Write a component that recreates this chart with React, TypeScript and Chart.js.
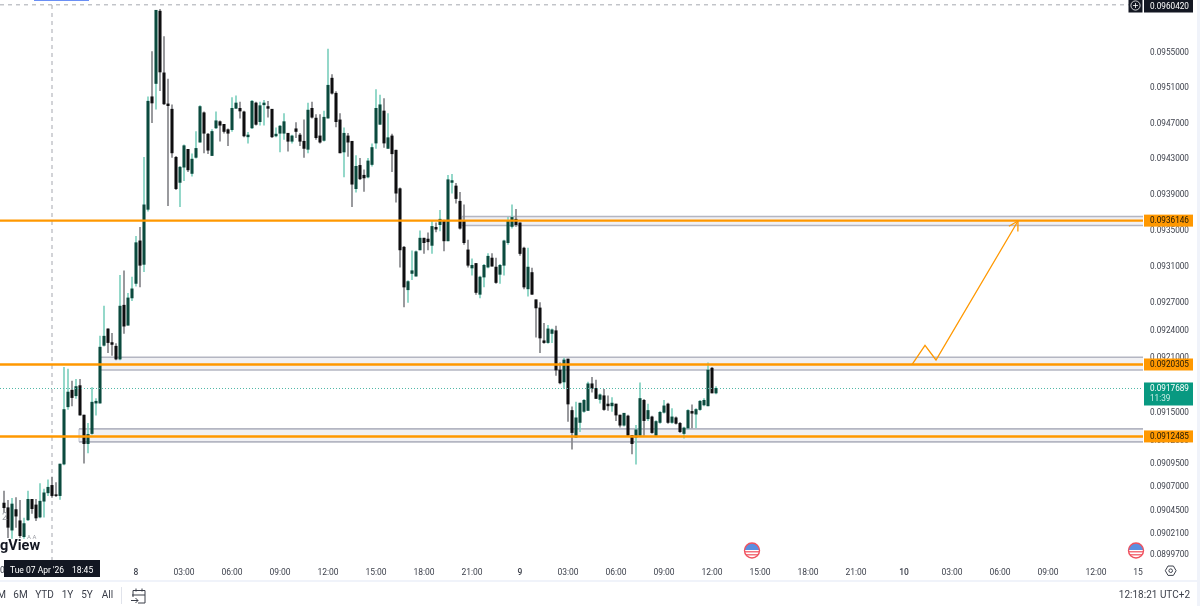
// App.tsx
import { useEffect, useRef } from 'react';
import { Chart, registerables } from 'chart.js';

Chart.register(...registerables);

// 15 minute candles, prices in units of 0.00001
const opens = [
  9053, 9048, 9024, 9046, 9034, 9017, 9035, 9057, 9051, 9038,
  9055, 9064, 9072, 9062, 9061, 9095, 9157, 9175, 9169, 9180,
  9148, 9117, 9128, 9161, 9161, 9224, 9242, 9227, 9223, 9209,
  9268, 9246, 9276, 9292, 9339, 9313, 9374, 9500, 9515, 9597,
  9527, 9492, 9486, 9432, 9404, 9421, 9441, 9414, 9432, 9449,
  9482, 9458, 9434, 9465, 9472, 9469, 9463, 9463, 9487, 9487,
  9483, 9455, 9465, 9493, 9472, 9491, 9489, 9486, 9456, 9459,
  9459, 9459, 9450, 9464, 9457, 9450, 9441, 9487, 9476, 9456,
  9451, 9476, 9521, 9504, 9474, 9438, 9456, 9450, 9397, 9423,
  9412, 9410, 9424, 9448, 9469, 9484, 9442, 9456, 9440, 9397,
  9332, 9285, 9303, 9300, 9329, 9342, 9341, 9334, 9354, 9357,
  9361, 9339, 9404, 9400, 9383, 9361, 9329, 9309, 9314, 9280,
  9299, 9310, 9320, 9310, 9302, 9312, 9337, 9355, 9363, 9359,
  9331, 9286, 9304, 9274, 9265, 9229, 9227, 9237, 9240, 9197,
  9184, 9209, 9153, 9124, 9140, 9152, 9153, 9182, 9177, 9165,
  9169, 9160, 9158, 9160, 9148, 9137, 9147, 9126, 9124, 9126,
  9164, 9144, 9146, 9126, 9140, 9151, 9160, 9140, 9145, 9139,
  9128, 9134, 9152, 9149, 9154, 9159, 9158, 9199, 9172,
];
const closes = [
  9048, 9027, 9052, 9039, 9018, 9031, 9057, 9047, 9037, 9055,
  9064, 9070, 9061, 9061, 9095, 9154, 9173, 9167, 9179, 9148,
  9117, 9127, 9162, 9163, 9222, 9234, 9227, 9225, 9209, 9267,
  9245, 9276, 9286, 9337, 9312, 9379, 9495, 9493, 9598, 9528,
  9492, 9490, 9437, 9397, 9421, 9445, 9418, 9430, 9442, 9489,
  9459, 9440, 9461, 9473, 9468, 9461, 9459, 9487, 9493, 9484,
  9456, 9457, 9495, 9469, 9490, 9493, 9487, 9455, 9458, 9467,
  9472, 9450, 9456, 9461, 9450, 9442, 9485, 9477, 9454, 9449,
  9477, 9513, 9504, 9472, 9437, 9459, 9449, 9402, 9422, 9408,
  9409, 9428, 9443, 9487, 9491, 9448, 9454, 9436, 9392, 9329,
  9288, 9294, 9306, 9327, 9342, 9337, 9338, 9355, 9352, 9363,
  9339, 9407, 9406, 9386, 9353, 9337, 9312, 9312, 9282, 9299,
  9312, 9322, 9311, 9293, 9312, 9339, 9361, 9365, 9357, 9325,
  9288, 9310, 9280, 9265, 9232, 9227, 9242, 9241, 9197, 9183,
  9208, 9160, 9129, 9145, 9161, 9164, 9182, 9177, 9166, 9170,
  9154, 9158, 9161, 9148, 9137, 9150, 9126, 9117, 9132, 9166,
  9142, 9153, 9129, 9141, 9151, 9158, 9140, 9146, 9139, 9130,
  9134, 9153, 9150, 9154, 9163, 9164, 9197, 9172, 9177,
];
const highs = [
  9066, 9056, 9058, 9059, 9056, 9037, 9066, 9057, 9057, 9074,
  9068, 9078, 9081, 9075, 9095, 9200, 9198, 9185, 9187, 9187,
  9148, 9139, 9178, 9166, 9234, 9267, 9242, 9237, 9226, 9301,
  9306, 9281, 9299, 9344, 9354, 9432, 9500, 9551, 9598, 9599,
  9568, 9520, 9491, 9433, 9422, 9446, 9441, 9436, 9461, 9490,
  9483, 9459, 9463, 9483, 9473, 9469, 9464, 9499, 9501, 9494,
  9484, 9460, 9496, 9494, 9494, 9496, 9495, 9486, 9465, 9468,
  9481, 9459, 9457, 9471, 9459, 9474, 9493, 9494, 9480, 9480,
  9484, 9554, 9525, 9506, 9481, 9465, 9459, 9450, 9434, 9431,
  9418, 9431, 9447, 9508, 9502, 9498, 9481, 9458, 9440, 9398,
  9333, 9295, 9328, 9328, 9350, 9342, 9348, 9361, 9359, 9373,
  9362, 9412, 9413, 9403, 9393, 9379, 9340, 9319, 9314, 9300,
  9313, 9325, 9325, 9320, 9313, 9340, 9365, 9379, 9374, 9359,
  9332, 9331, 9309, 9274, 9271, 9248, 9246, 9242, 9245, 9205,
  9210, 9209, 9157, 9162, 9161, 9165, 9184, 9189, 9186, 9171,
  9176, 9169, 9167, 9160, 9148, 9150, 9148, 9126, 9137, 9183,
  9165, 9160, 9147, 9142, 9152, 9164, 9161, 9155, 9146, 9140,
  9135, 9154, 9159, 9155, 9164, 9166, 9205, 9200, 9179,
];
const lows = [
  9043, 9016, 9015, 9027, 9016, 9015, 9034, 9042, 9034, 9037,
  9038, 9061, 9059, 9060, 9057, 9094, 9154, 9158, 9166, 9148,
  9096, 9107, 9127, 9148, 9161, 9223, 9216, 9213, 9208, 9208,
  9237, 9246, 9273, 9289, 9288, 9305, 9372, 9471, 9486, 9507,
  9491, 9378, 9432, 9396, 9377, 9406, 9416, 9411, 9431, 9449,
  9437, 9436, 9434, 9464, 9450, 9459, 9445, 9461, 9487, 9476,
  9455, 9448, 9464, 9468, 9468, 9468, 9477, 9454, 9455, 9438,
  9452, 9439, 9448, 9454, 9445, 9432, 9437, 9476, 9452, 9448,
  9450, 9476, 9503, 9466, 9437, 9410, 9433, 9377, 9393, 9407,
  9394, 9409, 9422, 9442, 9469, 9443, 9442, 9416, 9382, 9310,
  9266, 9271, 9296, 9300, 9329, 9325, 9329, 9325, 9349, 9350,
  9328, 9339, 9392, 9381, 9352, 9335, 9310, 9301, 9280, 9276,
  9288, 9309, 9311, 9292, 9292, 9301, 9335, 9353, 9355, 9323,
  9286, 9278, 9280, 9233, 9216, 9226, 9226, 9227, 9191, 9182,
  9177, 9141, 9111, 9124, 9130, 9151, 9153, 9173, 9166, 9161,
  9153, 9153, 9152, 9142, 9135, 9136, 9125, 9106, 9095, 9125,
  9126, 9142, 9128, 9125, 9139, 9150, 9139, 9139, 9138, 9129,
  9123, 9133, 9134, 9134, 9153, 9158, 9158, 9172, 9171,
];

const priceTicks = [
  0.0955, 0.0951, 0.0947, 0.0943, 0.0939, 0.0935, 0.0931, 0.0927, 0.0924, 0.0921,
  0.0915, 0.0912, 0.09095, 0.0907, 0.09045, 0.0902, 0.08997,
];
const priceTickLabels = [
  '0.0955000', '0.0951000', '0.0947000', '0.0943000', '0.0939000', '0.0935000', '0.0931000',
  '0.0927000', '0.0924000', '0.0921000', '0.0915000', '0.0912000', '0.0909500', '0.0907000',
  '0.0904500', '0.0902100', '0.0899700',
];
const timeTickBars = [34, 46, 58, 70, 82, 94, 106, 118, 130, 142, 154, 166, 178, 190, 202, 214, 226, 238, 250, 262, 274, 284.5];
const timeTickLabels = [
  '8', '03:00', '06:00', '09:00', '12:00', '15:00', '18:00', '21:00',
  '9', '03:00', '06:00', '09:00', '12:00', '15:00', '18:00', '21:00',
  '10', '03:00', '06:00', '09:00', '12:00', '15',
];
const dayLabels = ['8', '9', '10'];

const levels = [0.0936146, 0.0920305, 0.0912485];
const zoneTops = [0.09366, 0.09211, 0.09133];
const zoneBottoms = [0.09356, 0.09197, 0.09119];
const zoneStartBars = [115.5, 25, 19.75];
const lastPrice = 0.0917689;
const crosshairPrice = 0.096042;
const crosshairBar = 13;
const arrowBars = [228, 231.25, 234, 254.5];
const arrowPrices = [0.09203, 0.09224, 0.09208, 0.09361];
const eventBars = [188, 284];

const xMax = 285.75;
const yMin = 0.08991;
const yMax = 0.096097;
const FONT = 'Roboto, sans-serif';

const barIndex = opens.map((_, i) => i + 1);
const isUp = opens.map((o, i) => closes[i] >= o);

const fullWidthLine = (price: number) => [{ x: 0, y: price }, { x: xMax, y: price }];

const boxedLabel = (
  ctx: CanvasRenderingContext2D,
  y: number,
  h: number,
  fill: string,
  text: string,
  color: string,
) => {
  ctx.fillStyle = fill;
  ctx.fillRect(1144, y, 49, h);
  ctx.fillStyle = color;
  ctx.font = `8.2px ${FONT}`;
  ctx.textAlign = 'left';
  ctx.textBaseline = 'middle';
  ctx.fillText(text, 1150, y + h / 2 + 0.5);
};

const drawFlag = (ctx: CanvasRenderingContext2D, cx: number, cy: number) => {
  ctx.save();
  ctx.beginPath();
  ctx.arc(cx, cy, 7.5, 0, Math.PI * 2);
  ctx.fillStyle = '#ffffff';
  ctx.fill();
  ctx.clip();
  ctx.fillStyle = '#f4727c';
  ctx.fillRect(cx - 8, cy + 0.5, 16, 1.5);
  ctx.fillRect(cx - 8, cy + 3.5, 16, 1.5);
  ctx.fillStyle = '#5b8fe0';
  ctx.fillRect(cx - 8, cy - 8, 16, 7.5);
  ctx.restore();
  ctx.beginPath();
  ctx.arc(cx, cy, 7.5, 0, Math.PI * 2);
  ctx.strokeStyle = '#f0525f';
  ctx.lineWidth = 1.4;
  ctx.stroke();
};

// zones sit behind the candles
const zonePlugin = {
  id: 'zones',
  beforeDatasetsDraw(chart: any) {
    const { ctx, scales, chartArea } = chart;
    ctx.save();
    zoneTops.forEach((top, i) => {
      const x0 = scales.x.getPixelForValue(zoneStartBars[i]);
      const y0 = scales.y.getPixelForValue(top);
      const y1 = scales.y.getPixelForValue(zoneBottoms[i]);
      ctx.fillStyle = '#f1f1f4';
      ctx.fillRect(x0, y0, chartArea.right - x0, y1 - y0);
      ctx.strokeStyle = '#b4b6c2';
      ctx.lineWidth = 1.6;
      ctx.beginPath();
      ctx.moveTo(x0, y0);
      ctx.lineTo(chartArea.right, y0);
      ctx.moveTo(x0, y1);
      ctx.lineTo(chartArea.right, y1);
      ctx.stroke();
      ctx.lineWidth = 0.8;
      ctx.beginPath();
      ctx.moveTo(x0, y0);
      ctx.lineTo(x0, y1);
      ctx.stroke();
    });
    ctx.restore();
  },
};

// everything around the plot: price labels, date box, toolbar, watermark
const overlayPlugin = {
  id: 'overlay',
  afterDraw(chart: any) {
    const { ctx, scales } = chart;
    const py = (p: number) => scales.y.getPixelForValue(p);
    ctx.save();

    // arrow head from the last leg of the drawing
    const n = arrowBars.length - 1;
    const tipX = scales.x.getPixelForValue(arrowBars[n]);
    const tipY = py(arrowPrices[n]);
    const angle = Math.atan2(
      py(arrowPrices[n - 1]) - tipY,
      scales.x.getPixelForValue(arrowBars[n - 1]) - tipX,
    );
    ctx.strokeStyle = '#ff9800';
    ctx.lineWidth = 1.3;
    ctx.beginPath();
    [-0.52, 0.52].forEach((d) => {
      ctx.moveTo(tipX, tipY);
      ctx.lineTo(tipX + 10.5 * Math.cos(angle + d), tipY + 10.5 * Math.sin(angle + d));
    });
    ctx.stroke();

    // top drawing tool sliver
    ctx.fillStyle = '#6a8ff5';
    ctx.fillRect(34, 0, 55, 1);

    // watermark
    ctx.textAlign = 'left';
    ctx.textBaseline = 'middle';
    ctx.fillStyle = '#9a9ca3';
    ctx.font = `10px ${FONT}`;
    ctx.fillText('2', 2, 517);
    ctx.font = `6px ${FONT}`;
    ctx.fillText('A A', 27, 537);
    ctx.fillStyle = '#131722';
    ctx.font = `bold 14.5px ${FONT}`;
    ctx.fillText('gView', 0, 546);

    // event flags
    eventBars.forEach((bar) => drawFlag(ctx, scales.x.getPixelForValue(bar), 550.5));

    // price labels
    levels.forEach((p) => {
      const y = py(p);
      boxedLabel(ctx, y - 6, 12, '#ff9800', p.toFixed(7), '#1b1608');
    });
    const ly = py(lastPrice);
    ctx.fillStyle = '#089981';
    ctx.fillRect(1144, ly - 6, 49, 23);
    ctx.fillStyle = '#ffffff';
    ctx.font = `8.2px ${FONT}`;
    ctx.textAlign = 'left';
    ctx.fillText(lastPrice.toFixed(7), 1150, ly);
    ctx.fillStyle = '#cdeee7';
    ctx.fillText('11:39', 1150, ly + 10.5);

    boxedLabel(ctx, 0, 12.5, '#131722', crosshairPrice.toFixed(7), '#ffffff');
    ctx.fillStyle = '#131722';
    ctx.fillRect(1128.5, 0, 14, 12.5);
    ctx.strokeStyle = '#ffffff';
    ctx.lineWidth = 0.8;
    ctx.beginPath();
    ctx.arc(1135.5, 5.5, 4.6, 0, Math.PI * 2);
    ctx.moveTo(1133, 5.5);
    ctx.lineTo(1138, 5.5);
    ctx.moveTo(1135.5, 3);
    ctx.lineTo(1135.5, 8);
    ctx.stroke();

    // crosshair date box
    ctx.fillStyle = '#3d414c';
    ctx.font = `8.5px ${FONT}`;
    ctx.fillText('0', 0, 570.5);
    ctx.fillStyle = '#131722';
    ctx.fillRect(4, 560, 96, 17);
    ctx.fillStyle = '#ffffff';
    ctx.fillText("Tue 07 Apr '26", 10, 570.5);
    ctx.fillText('18:45', 72, 570.5);

    // gear
    ctx.strokeStyle = '#3d414c';
    ctx.lineWidth = 1;
    ctx.beginPath();
    for (let i = 0; i < 6; i++) {
      const a = (Math.PI / 3) * i;
      const hx = 1170.7 + 5.4 * Math.cos(a);
      const hy = 570.7 + 5.4 * Math.sin(a);
      if (i === 0) ctx.moveTo(hx, hy);
      else ctx.lineTo(hx, hy);
    }
    ctx.closePath();
    ctx.moveTo(1172.5, 570.7);
    ctx.arc(1170.7, 570.7, 1.8, 0, Math.PI * 2);
    ctx.stroke();

    // bottom toolbar
    ctx.fillStyle = '#f0f3fa';
    ctx.fillRect(0, 580, 1200, 2);
    ctx.fillRect(1197, 0, 3, 606);
    ctx.fillStyle = '#e0e3eb';
    ctx.fillRect(121, 587, 1, 17);
    ctx.fillStyle = '#3a3e49';
    ctx.font = `10px ${FONT}`;
    ctx.textAlign = 'center';
    ctx.fillText('M', 1.5, 595.5);
    ctx.fillText('6M', 20.5, 595.5);
    ctx.fillText('YTD', 44.5, 595.5);
    ctx.fillText('1Y', 67.5, 595.5);
    ctx.fillText('5Y', 87, 595.5);
    ctx.fillText('All', 107.5, 595.5);
    ctx.textAlign = 'right';
    ctx.fillText('12:18:21 UTC+2', 1190, 595.5);

    // calendar icon
    ctx.strokeStyle = '#3a3e49';
    ctx.lineWidth = 1;
    ctx.beginPath();
    ctx.moveTo(133, 597);
    ctx.lineTo(133, 590.5);
    ctx.lineTo(145, 590.5);
    ctx.lineTo(145, 603);
    ctx.lineTo(138, 603);
    ctx.moveTo(132, 595);
    ctx.lineTo(145, 595);
    ctx.moveTo(136, 588.5);
    ctx.lineTo(136, 591.5);
    ctx.moveTo(142, 588.5);
    ctx.lineTo(142, 591.5);
    ctx.moveTo(131, 600.5);
    ctx.lineTo(138, 600.5);
    ctx.moveTo(135.5, 598);
    ctx.lineTo(138, 600.5);
    ctx.lineTo(135.5, 603);
    ctx.stroke();

    ctx.restore();
  },
};

const App = () => {
  const canvasRef = useRef<HTMLCanvasElement | null>(null);

  useEffect(() => {
    if (!canvasRef.current) return;

    const lineDefaults = { type: 'line' as const, pointRadius: 0, borderJoinStyle: 'miter' as const, tension: 0 };

    const chart = new Chart(canvasRef.current, {
      type: 'bar',
      data: {
        datasets: [
          ...levels.map((p) => ({
            ...lineDefaults,
            data: fullWidthLine(p),
            borderColor: '#ff9800',
            borderWidth: 2.4,
            order: 1,
          })),
          {
            ...lineDefaults,
            data: arrowBars.map((x, i) => ({ x, y: arrowPrices[i] })),
            borderColor: '#ff9800',
            borderWidth: 1.3,
            order: 0,
          },
          {
            ...lineDefaults,
            data: fullWidthLine(lastPrice),
            borderColor: '#4fb8a6',
            borderWidth: 1,
            borderDash: [1, 2],
            order: 2,
          },
          {
            ...lineDefaults,
            data: fullWidthLine(crosshairPrice),
            borderColor: '#a6a8b0',
            borderWidth: 1,
            borderDash: [4, 4],
            order: 6,
          },
          {
            ...lineDefaults,
            data: [{ x: crosshairBar, y: yMin }, { x: crosshairBar, y: yMax }],
            borderColor: '#a6a8b0',
            borderWidth: 1,
            borderDash: [4, 4],
            order: 6,
          },
          {
            type: 'bar' as const,
            data: barIndex.map((x, i) => ({ x, y: [Math.min(opens[i], closes[i]) / 1e5, Math.max(opens[i], closes[i]) / 1e5] })),
            backgroundColor: isUp.map((u) => (u ? '#0b4a3e' : '#0e0e10')),
            barThickness: 2.4,
            grouped: false,
            order: 3,
          },
          {
            type: 'bar' as const,
            data: barIndex.map((x, i) => ({ x, y: [lows[i] / 1e5, highs[i] / 1e5] })),
            backgroundColor: isUp.map((u) => (u ? '#7fd0bf' : '#85868a')),
            barThickness: 1,
            grouped: false,
            order: 4,
          },
        ],
      },
      options: {
        responsive: false,
        devicePixelRatio: 1,
        animation: false,
        events: [],
        layout: { autoPadding: false, padding: 0 },
        plugins: { legend: { display: false }, tooltip: { enabled: false } },
        scales: {
          x: {
            type: 'linear',
            position: 'bottom',
            min: 0,
            max: xMax,
            offset: false,
            bounds: 'data',
            border: { display: false },
            grid: { display: false, offset: false, drawTicks: false },
            afterBuildTicks: (axis: any) => {
              axis.ticks = timeTickBars.map((value) => ({ value }));
            },
            afterFit: (axis: any) => {
              axis.height = 45;
              axis.paddingLeft = 0;
              axis.paddingRight = 0;
            },
            ticks: {
              autoSkip: false,
              maxRotation: 0,
              padding: 7,
              color: '#3d414c',
              font: (ctx: any) => ({
                family: FONT,
                size: 8.5,
                weight: dayLabels.includes(timeTickLabels[ctx.index]) ? 500 : 'normal',
              }),
              callback: (_: any, i: number) => timeTickLabels[i],
            },
          },
          y: {
            type: 'logarithmic',
            position: 'right',
            min: yMin,
            max: yMax,
            bounds: 'data',
            border: { display: false },
            grid: { display: false, drawTicks: false },
            afterBuildTicks: (axis: any) => {
              axis.ticks = priceTicks.map((value) => ({ value }));
            },
            afterFit: (axis: any) => {
              axis.width = 57;
              axis.paddingTop = 0;
              axis.paddingBottom = 0;
            },
            ticks: {
              autoSkip: false,
              padding: 7,
              color: '#3d414c',
              font: { family: FONT, size: 8.2 },
              callback: (_: any, i: number) => priceTickLabels[i],
            },
          },
        },
      } as any,
      plugins: [zonePlugin, overlayPlugin],
    });

    return () => chart.destroy();
  }, []);

  return (
    <div style={{ width: 1200, height: 606, background: '#ffffff' }}>
      <style>{'body { margin: 0; background: #ffffff; }'}</style>
      <canvas ref={canvasRef} width={1200} height={606} style={{ display: 'block' }} />
    </div>
  );
};

export default App;
